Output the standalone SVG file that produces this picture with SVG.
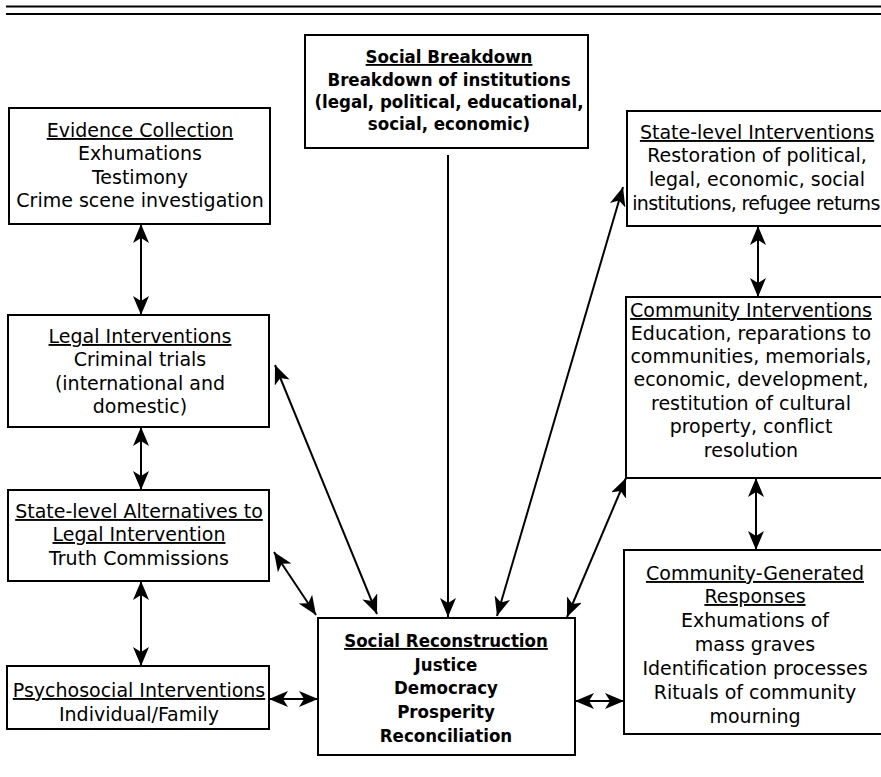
<svg xmlns="http://www.w3.org/2000/svg" width="881" height="777" viewBox="0 0 881 777">
<defs>
<style>
.box{fill:#fff;stroke:#000;stroke-width:2}
.t{font-family:"DejaVu Sans","Liberation Sans",sans-serif;font-size:19px;fill:#000;text-anchor:middle}
.b{font-family:"DejaVu Sans Condensed","DejaVu Sans",sans-serif;font-stretch:condensed;font-weight:bold;font-size:18.5px}
.u{text-decoration:underline}
.c{stroke:#000;stroke-width:2;fill:none}
.d{marker-start:url(#ah);marker-end:url(#ah)}
.s{marker-end:url(#ah)}
</style>
<marker id="ah" viewBox="0 0 19 16" refX="19" refY="8" markerWidth="19" markerHeight="16" markerUnits="userSpaceOnUse" orient="auto-start-reverse">
<path d="M0,0 L19,8 L0,16 L5,8 z" fill="#000"/>
</marker>
</defs>
<rect width="881" height="777" fill="#fff"/>
<g id="rules">
<line x1="6" y1="6.5" x2="881" y2="6.5" stroke="#000" stroke-width="2"/>
<line x1="6" y1="14" x2="881" y2="14" stroke="#000" stroke-width="2"/>
</g>
<g id="connectors">
<line class="c d" x1="141" y1="224" x2="141" y2="315"/>
<line class="c d" x1="141" y1="427" x2="141" y2="490"/>
<line class="c d" x1="141" y1="581" x2="141" y2="666"/>
<line class="c d" x1="269" y1="699" x2="318" y2="699"/>
<line class="c d" x1="275" y1="365" x2="377" y2="614"/>
<line class="c d" x1="274" y1="552" x2="316" y2="615"/>
<line class="c s" x1="448" y1="155" x2="448" y2="617"/>
<line class="c d" x1="623" y1="187" x2="497" y2="616"/>
<line class="c d" x1="626" y1="478" x2="567" y2="617"/>
<line class="c d" x1="758" y1="226" x2="758" y2="297"/>
<line class="c d" x1="756" y1="478" x2="756" y2="550"/>
<line class="c d" x1="575" y1="701" x2="624" y2="701"/>
</g>
<g id="evidence">
<rect class="box" x="9" y="108" width="261" height="116"/>
<text class="t"><tspan class="u" x="140" y="137">Evidence Collection</tspan><tspan x="140" y="160">Exhumations</tspan><tspan x="140" y="184">Testimony</tspan><tspan x="140" y="207">Crime scene investigation</tspan></text>
</g>
<g id="social-breakdown">
<rect class="box" x="305" y="35" width="283" height="113"/>
<text class="t b"><tspan class="u" x="449" y="63">Social Breakdown</tspan><tspan x="449" y="86">Breakdown of institutions</tspan><tspan x="449" y="108">(legal, political, educational,</tspan><tspan x="449" y="130">social, economic)</tspan></text>
</g>
<g id="state-interventions">
<rect class="box" x="627" y="111" width="270" height="115"/>
<text class="t"><tspan class="u" x="757" y="139">State-level Interventions</tspan><tspan x="757" y="162">Restoration of political,</tspan><tspan x="757" y="186">legal, economic, social</tspan><tspan x="756" y="210" style="letter-spacing:-0.6px">institutions, refugee returns</tspan></text>
</g>
<g id="legal">
<rect class="box" x="8" y="315" width="261" height="112"/>
<text class="t"><tspan class="u" x="140" y="343">Legal Interventions</tspan><tspan x="140" y="366">Criminal trials</tspan><tspan x="140" y="390">(international and</tspan><tspan x="140" y="413">domestic)</tspan></text>
</g>
<g id="state-alternatives">
<rect class="box" x="8" y="490" width="261" height="91"/>
<text class="t"><tspan class="u" x="139" y="518">State-level Alternatives to</tspan><tspan class="u" x="139" y="541">Legal Intervention</tspan><tspan x="139" y="565">Truth Commissions</tspan></text>
</g>
<g id="community-interventions">
<rect class="box" x="626" y="297" width="270" height="181"/>
<text class="t"><tspan class="u" x="751" y="317">Community Interventions</tspan><tspan x="751" y="340">Education, reparations to</tspan><tspan x="751" y="363">communities, memorials,</tspan><tspan x="751" y="386">economic, development,</tspan><tspan x="751" y="410">restitution of cultural</tspan><tspan x="751" y="433">property, conflict</tspan><tspan x="751" y="457">resolution</tspan></text>
</g>
<g id="psychosocial">
<rect class="box" x="7" y="666" width="262" height="63"/>
<text class="t"><tspan class="u" x="139" y="697">Psychosocial Interventions</tspan><tspan x="139" y="721">Individual/Family</tspan></text>
</g>
<g id="social-reconstruction">
<rect class="box" x="318" y="618" width="257" height="137"/>
<text class="t b"><tspan class="u" x="446" y="647">Social Reconstruction</tspan><tspan x="446" y="671">Justice</tspan><tspan x="446" y="694">Democracy</tspan><tspan x="446" y="718">Prosperity</tspan><tspan x="446" y="742">Reconciliation</tspan></text>
</g>
<g id="community-generated">
<rect class="box" x="624" y="550" width="272" height="184"/>
<text class="t"><tspan class="u" x="755" y="580">Community-Generated</tspan><tspan class="u" x="755" y="603">Responses</tspan><tspan x="755" y="627">Exhumations of</tspan><tspan x="755" y="651">mass graves</tspan><tspan x="755" y="675">Identification processes</tspan><tspan x="755" y="699">Rituals of community</tspan><tspan x="755" y="723">mourning</tspan></text>
</g>
</svg>
